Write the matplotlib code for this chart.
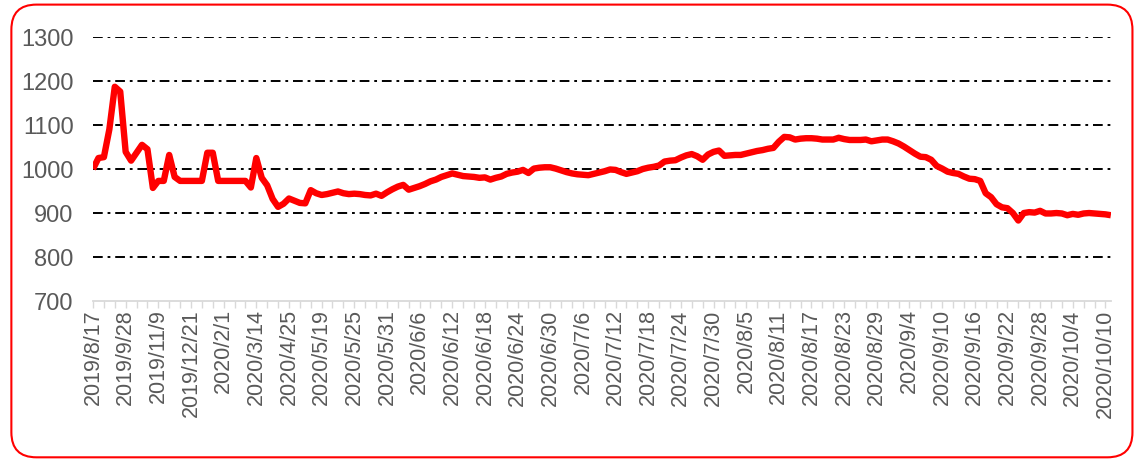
import pandas as pd
import matplotlib
matplotlib.use("Agg")
import matplotlib.pyplot as plt
from matplotlib.patches import FancyBboxPatch

plt.rcParams['font.family'] = ['Liberation Sans', 'DejaVu Sans']
plt.rcParams['lines.scale_dashes'] = False

# weekly points up to 2020/5/16, daily afterwards
weekly_dates = pd.date_range("2019-08-17", "2020-05-16", freq="7D")
daily_dates = pd.date_range("2020-05-17", "2020-10-11", freq="D")
dates = list(weekly_dates) + list(daily_dates)
labels = [f"{d.year}/{d.month}/{d.day}" for d in dates]

values = [
    1000, 1025, 1027, 1090, 1187, 1176, 1039, 1019, 1037, 1055,
    1045, 957, 973, 973, 1032, 982, 973, 973, 973, 973,
    973, 1037, 1037, 973, 973, 973, 973, 973, 973, 958,
    1025, 980, 963, 932, 914, 921, 933, 928, 923, 922,
    952, 945, 941, 943, 946, 949, 945, 943, 944, 943,
    941, 940, 944, 939, 947, 954, 960, 964, 953, 957,
    961, 966, 972, 976, 982, 986, 990, 987, 984, 983,
    982, 980, 981, 976, 980, 983, 989, 992, 994, 998,
    991, 1001, 1003, 1004, 1004, 1001, 997, 993, 990, 988,
    987, 986, 989, 992, 995, 999, 998, 993, 989, 992,
    995, 1000, 1003, 1005, 1008, 1017, 1019, 1020, 1026, 1031,
    1034, 1029, 1021, 1033, 1039, 1042, 1030, 1031, 1032, 1032,
    1035, 1038, 1041, 1043, 1046, 1048, 1062, 1073, 1072, 1067,
    1069, 1070, 1070, 1069, 1067, 1067, 1067, 1071, 1068, 1066,
    1066, 1066, 1067, 1063, 1065, 1067, 1067, 1063, 1058, 1051,
    1043, 1035, 1028, 1027, 1021, 1007, 1001, 994, 991, 989,
    983, 978, 977, 973, 945, 936, 920, 913, 911, 900,
    883, 900, 902, 901, 905, 899, 899, 900, 899, 895,
    898, 896, 899, 900, 899, 898, 897, 895,
]

y_ticks = [700, 800, 900, 1000, 1100, 1200, 1300]

fig = plt.figure(figsize=(11.37, 4.61), dpi=100)
ax = fig.add_axes([0.0818, 0.347, 0.8952, 0.5727])

x = list(range(len(values)))
n = len(values)

# dash-dot gridlines
for v in y_ticks[1:]:
    ax.axhline(v, color="black", linewidth=1.4, dashes=(7, 3.5, 2, 3.5), zorder=1)

ax.plot(x, values, color="#FF0000", linewidth=4.6, solid_joinstyle="round",
        solid_capstyle="butt", zorder=3)

ax.set_xlim(0, n - 1)
ax.set_ylim(700, 1300)
ax.set_yticks(y_ticks)
ax.set_yticklabels([str(v) for v in y_ticks], fontsize=17, color="#595959")

ax.set_xticks(x[::6])
ax.set_xticklabels(labels[::6], rotation=90, fontsize=15.5, color="#595959")
ax.set_xticks(x[::2], minor=True)

for side in ["top", "right", "left"]:
    ax.spines[side].set_visible(False)
ax.spines["bottom"].set_color("#d9d9d9")
ax.spines["bottom"].set_linewidth(1.3)
ax.tick_params(axis="y", length=0, pad=14)
ax.tick_params(axis="x", which="both", length=5, color="#d9d9d9", width=1.0,
               direction="out", pad=1)

# rounded red frame around the chart
frame = FancyBboxPatch((0.010, 0.008), 0.986, 0.982,
                       boxstyle="round,pad=0,rounding_size=0.022",
                       transform=fig.transFigure, fill=False,
                       edgecolor="#FF0000", linewidth=1.5,
                       mutation_aspect=1137 / 461)
fig.patches.append(frame)

fig.savefig("out.png", dpi=100)
